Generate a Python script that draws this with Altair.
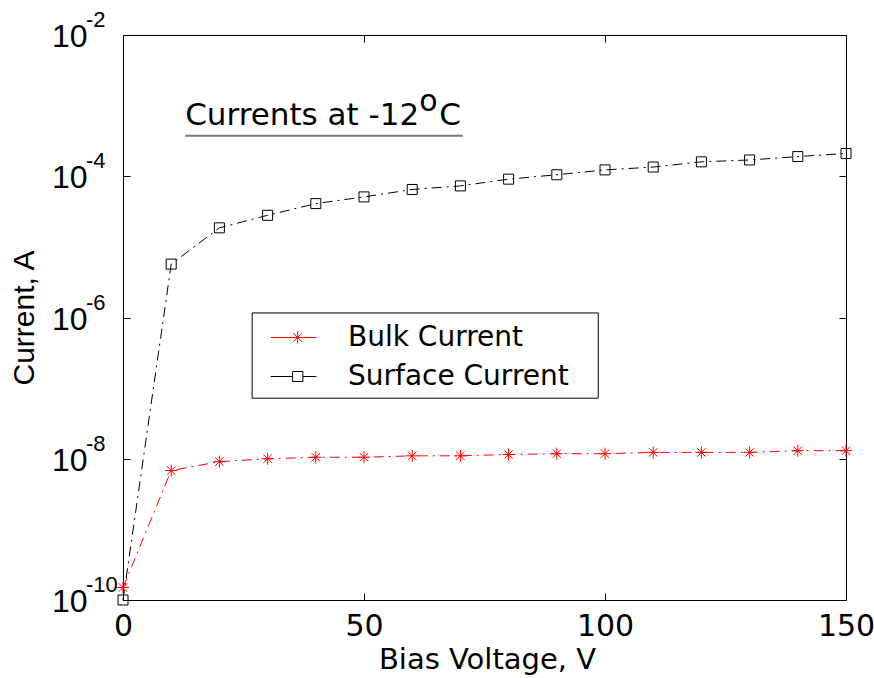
import altair as alt
import pandas as pd

# ---- data ----
voltage = [0, 10, 20, 30, 40, 50, 60, 70, 80, 90, 100, 110, 120, 130, 140, 150]
bulk_current = [1.5e-10, 6.8e-9, 9.1e-9, 1.0e-8, 1.05e-8, 1.05e-8, 1.1e-8, 1.1e-8,
                1.15e-8, 1.18e-8, 1.18e-8, 1.23e-8, 1.23e-8, 1.23e-8, 1.3e-8, 1.3e-8]
surface_current = [1.0e-10, 5.7e-6, 1.86e-5, 2.8e-5, 4.1e-5, 5.1e-5, 6.5e-5, 7.3e-5,
                   9.1e-5, 1.05e-4, 1.23e-4, 1.35e-4, 1.6e-4, 1.7e-4, 1.9e-4, 2.1e-4]
series_names = ["Bulk Current", "Surface Current"]
series_colors = ["#ff0000", "#000000"]
y_tick_exponents = [-2, -4, -6, -8, -10]
x_tick_values = [0, 50, 100, 150]
title_parts = ["Currents at -12", "o", "C"]
title_anchor_v = [12.9]
title_anchor_i = [5.3e-4]
underline_v = [12.9, 70.5]
underline_i = [3.75e-4]
legend_box_v = [26.8, 98.6]
legend_box_i = [1.16e-6, 7.2e-8]

W, H = 723, 565

df = pd.DataFrame({
    "V": voltage * 2,
    "I": bulk_current + surface_current,
    "series": [series_names[0]] * len(voltage) + [series_names[1]] * len(voltage),
})
ticks_df = pd.DataFrame({"tv": [10.0 ** e for e in y_tick_exponents],
                         "exp": [str(e) for e in y_tick_exponents]})
ann_df = pd.DataFrame({"V": title_anchor_v, "I": title_anchor_i})
ul_df = pd.DataFrame({"V": [underline_v[0]], "V2": [underline_v[1]], "I": underline_i})
box_df = pd.DataFrame({"V": [legend_box_v[0]], "V2": [legend_box_v[1]],
                       "I": [legend_box_i[0]], "I2": [legend_box_i[1]]})

xs = alt.Scale(domain=[0, 150], nice=False, zero=False)
ys = alt.Scale(type="log", domain=[1e-10, 1e-2], nice=False)
cs = alt.Scale(domain=series_names, range=series_colors)

ASTERISK = "M0,-1V1M-1,0H1M-0.7,-0.7L0.7,0.7M-0.7,0.7L0.7,-0.7"
LEG_BULK = ("M-1.27,0H1.27M0.23,-0.34V0.34M-0.11,0H0.57M-0.01,-0.24L0.47,0.24"
            "M-0.01,0.24L0.47,-0.24")
LEG_SURF = "M-1.27,0H-0.05M0.52,0H1.27M-0.05,-0.28H0.52V0.28H-0.05Z"

FONT = "DejaVu Sans"
YFONT = "Liberation Sans"
DASH = [10, 5, 2, 5]

def tick_axis(orient, values, offset):
    return alt.Axis(orient=orient, offset=offset, values=values, labels=False,
                    domain=False, ticks=True, tickSize=7, tickColor="black",
                    tickWidth=1, title=None, grid=False)

yvals = [10.0 ** e for e in y_tick_exponents]
main_x = alt.Axis(orient="bottom", values=x_tick_values, ticks=False, domain=False,
                  grid=False, labelFont=FONT, labelFontSize=30, labelColor="black",
                  labelPadding=11, labelFlush=False, title="Bias Voltage, V",
                  titleFont=FONT, titleFontSize=29, titleFontWeight="normal",
                  titleColor="black", titleBaseline="alphabetic", titleY=68,
                  titleX=364)
main_y = alt.Axis(orient="left", values=yvals,
                  labels=False, ticks=False, domain=False, grid=False,
                  title="Current, A", titleFont=YFONT, titleFontSize=30,
                  titleFontWeight="normal", titleColor="black", titleAngle=-90,
                  titleBaseline="alphabetic", titleAlign="center", titleX=-90,
                  titleY=H / 2)

base = alt.Chart(df)

bulk_line = base.transform_filter(alt.datum.series == series_names[0]).mark_line(
    strokeWidth=1, strokeDash=DASH, color=series_colors[0]).encode(
    x=alt.X("V:Q", scale=xs, axis=main_x),
    y=alt.Y("I:Q", scale=ys, axis=main_y),
)
surf_line = base.transform_filter(alt.datum.series == series_names[1]).mark_line(
    strokeWidth=1, strokeDash=DASH, color=series_colors[1]).encode(
    x=alt.X("V:Q", scale=xs, axis=None),
    y=alt.Y("I:Q", scale=ys, axis=None),
)

bulk_pts = base.transform_filter(alt.datum.series == series_names[0]).mark_point(
    shape=ASTERISK, size=144, filled=False, strokeWidth=1,
    color=series_colors[0], opacity=1).encode(
    x=alt.X("V:Q", scale=xs, axis=tick_axis("top", x_tick_values, -H)),
    y=alt.Y("I:Q", scale=ys, axis=tick_axis("right", yvals, -W)),
)

surf_pts = base.transform_filter(alt.datum.series == series_names[1]).mark_point(
    shape="square", size=100, filled=False, strokeWidth=1,
    color=series_colors[1], opacity=1).encode(
    x=alt.X("V:Q", scale=xs, axis=tick_axis("bottom", x_tick_values, -H)),
    y=alt.Y("I:Q", scale=ys, axis=tick_axis("left", yvals, -W)),
)

legend_frame = alt.Chart(box_df).mark_rect(fill="white", stroke="black",
                                           strokeWidth=1).encode(
    x=alt.X("V:Q", scale=xs, axis=None), x2="V2:Q",
    y=alt.Y("I:Q", scale=ys, axis=None), y2="I2:Q")

legend_layer = base.mark_point(opacity=0, filled=False, strokeWidth=1).encode(
    x=alt.X("V:Q", scale=xs, axis=None),
    y=alt.Y("I:Q", scale=ys, axis=None),
    color=alt.Color("series:N", scale=cs, legend=alt.Legend(
        title=None, orient="none", legendX=129, legendY=280,
        padding=4,
        symbolSize=1296, symbolStrokeWidth=1, symbolOpacity=1,
        symbolOffset=19, labelOffset=36, rowPadding=6,
        labelFont=FONT, labelFontSize=28, labelColor="black", labelLimit=400)),
    shape=alt.Shape("series:N", scale=alt.Scale(domain=series_names,
                                                range=[LEG_BULK, LEG_SURF])),
)

ten_labels = alt.Chart(ticks_df).mark_text(
    text="10", align="left", baseline="alphabetic", font=YFONT, fontSize=32,
    color="black", dy=12).encode(
    x=alt.value(-71),
    y=alt.Y("tv:Q", scale=ys, axis=None),
)
exp_labels = alt.Chart(ticks_df).mark_text(
    align="left", baseline="alphabetic", font=YFONT, fontSize=22,
    color="black", dy=-8).encode(
    x=alt.value(-37),
    y=alt.Y("tv:Q", scale=ys, axis=None),
    text="exp:N",
)

t1 = alt.Chart(ann_df).mark_text(text=title_parts[0], align="left",
                                  baseline="alphabetic", font=FONT, fontSize=31,
                                  color="black").encode(
    x=alt.X("V:Q", scale=xs, axis=None), y=alt.Y("I:Q", scale=ys, axis=None))
t2 = alt.Chart(ann_df).mark_text(text=title_parts[1], align="left",
                                  baseline="alphabetic", font=FONT, fontSize=30,
                                  color="black", dx=234, dy=-14).encode(
    x=alt.X("V:Q", scale=xs, axis=None), y=alt.Y("I:Q", scale=ys, axis=None))
t3 = alt.Chart(ann_df).mark_text(text=title_parts[2], align="left",
                                  baseline="alphabetic", font=FONT, fontSize=31,
                                  color="black", dx=254).encode(
    x=alt.X("V:Q", scale=xs, axis=None), y=alt.Y("I:Q", scale=ys, axis=None))
underline = alt.Chart(ul_df).mark_rule(color="#777777", strokeWidth=2).encode(
    x=alt.X("V:Q", scale=xs, axis=None), x2="V2:Q",
    y=alt.Y("I:Q", scale=ys, axis=None))

chart = alt.layer(
    bulk_line, surf_line, bulk_pts, surf_pts, legend_frame, legend_layer,
    ten_labels, exp_labels, t1, t2, t3, underline,
).resolve_axis(x="independent", y="independent").properties(
    width=W, height=H,
    autosize=alt.AutoSizeParams(type="none"),
    padding={"left": 123, "top": 35, "right": 874 - 123 - W, "bottom": 678 - 35 - H},
    background="white",
).configure_view(stroke="black", strokeWidth=1)

chart.save("out.html", embed_options={"renderer": "svg", "actions": False})
